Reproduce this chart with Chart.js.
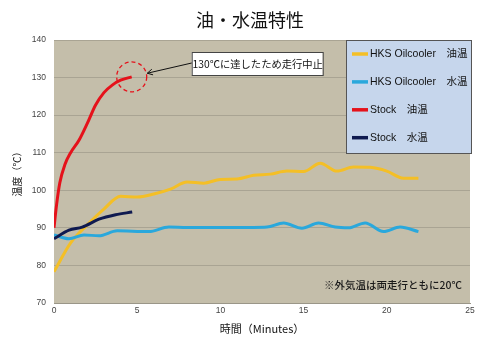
<!DOCTYPE html>
<html><head><meta charset="utf-8">
<script src="https://cdn.jsdelivr.net/npm/chart.js@4/dist/chart.umd.min.js"></script>
<style>html,body{margin:0;padding:0;background:#fff}#wrap{width:500px;height:342px}</style>
</head><body><div id="wrap"><canvas id="c" width="500" height="342"></canvas></div>
<script>
const chartTitle = '油・水温特性';
const seriesNames = ['HKS Oilcooler\u3000油温', 'HKS Oilcooler\u3000水温', 'Stock\u3000油温', 'Stock\u3000水温'];
const seriesColors = ['#f4bf26', '#2aa8dc', '#e5121b', '#0f1a50'];

const hksOilTime = [0, 1, 2, 3, 4, 5, 6, 7, 8, 9, 10, 11, 12, 13, 14, 15, 16, 17, 18, 19, 20, 21, 21.9];
const hksOilTemp = [78.3, 86, 90.8, 95, 98.4, 98.2, 99, 100.3, 102.2, 101.9, 102.9, 103, 104, 104.3, 105.1, 105, 107.2, 105.1, 106.2, 106.1, 105.1, 103.2, 103.2];

const hksWaterTime = [0, 0.9, 1.8, 2.7, 3.8, 4.7, 5.7, 6.9, 8, 9, 10, 11, 12, 12.8, 13.8, 14.9, 15.9, 16.9, 17.7, 18.7, 19.8, 20.8, 21.9];
const hksWaterTemp = [88.1, 87.1, 88.1, 87.9, 89.2, 89.1, 89, 90.2, 90.1, 90.1, 90.1, 90.1, 90.1, 90.2, 91.3, 89.9, 91.3, 90.2, 90, 91.3, 89, 90.2, 89];

const stockOilTime = [0, 0.15, 0.35, 0.65, 1, 1.5, 2, 2.5, 3, 3.5, 4, 4.67];
const stockOilTemp = [90, 96, 102, 106.8, 110, 113.3, 117.8, 122.7, 126, 128, 129.3, 130.2];

const stockWaterTime = [0, 0.9, 1.7, 2.7, 3.7, 4.7];
const stockWaterTemp = [87.1, 89.4, 90.2, 92.3, 93.5, 94.2];

const xTicksMin = 0, xTicksMax = 25, xStep = 5;
const yTicksMin = 70, yTicksMax = 140, yStep = 10;
const stopNote = '130℃に達したため走行中止';
const ambientNote = '※外気温は両走行ともに20℃';

const FONT = "'Liberation Sans', 'Noto Sans CJK JP', sans-serif";
const JFONT = "'Noto Sans CJK JP', 'Liberation Sans', sans-serif";

function pts(t, v) { return t.map((x, i) => ({x: x, y: v[i]})); }

const deco = {
  id: 'deco',
  beforeDraw(chart) {
    const {ctx, chartArea: a} = chart;
    ctx.save();
    ctx.fillStyle = '#c4beaa';
    ctx.fillRect(a.left, a.top, a.right - a.left, a.bottom - a.top);
    ctx.restore();
  },
  afterDraw(chart) {
    const {ctx, chartArea: a, scales} = chart;
    ctx.save();
    // title
    ctx.fillStyle = '#111';
    ctx.font = '18px ' + JFONT;
    ctx.textAlign = 'center';
    ctx.textBaseline = 'middle';
    ctx.fillText(chartTitle, 250, 20);

    // dashed circle at end of stock oil line
    const lastI = stockOilTime.length - 1;
    const cx = scales.x.getPixelForValue(stockOilTime[lastI]);
    const cy = scales.y.getPixelForValue(stockOilTemp[lastI]);
    const r = 15;
    ctx.strokeStyle = '#e5121b';
    ctx.lineWidth = 1.3;
    ctx.setLineDash([4, 3]);
    ctx.beginPath(); ctx.arc(cx, cy, r, 0, Math.PI * 2); ctx.stroke();
    ctx.setLineDash([]);

    // annotation box
    const bx = cx + 60, by = 52, bw = 131, bh = 23;
    ctx.fillStyle = '#fff';
    ctx.fillRect(bx, by, bw, bh);
    ctx.strokeStyle = '#444';
    ctx.lineWidth = 1;
    ctx.strokeRect(bx + 0.5, by + 0.5, bw, bh);
    ctx.fillStyle = '#111';
    ctx.font = '10.3px ' + JFONT;
    ctx.textAlign = 'center';
    ctx.fillText(stopNote, bx + bw / 2 + 0.5, by + bh / 2 + 1);

    // arrow
    const sx = bx, sy = by + 11;
    const ang = Math.atan2(sy - cy, sx - cx);
    const ex = cx + Math.cos(ang) * (r + 1), ey = cy + Math.sin(ang) * (r + 1);
    ctx.strokeStyle = '#111';
    ctx.lineWidth = 1;
    ctx.beginPath(); ctx.moveTo(sx, sy); ctx.lineTo(ex, ey); ctx.stroke();
    const ah = 6, aw = 0.5;
    ctx.beginPath();
    ctx.moveTo(ex + Math.cos(ang + aw) * ah, ey + Math.sin(ang + aw) * ah);
    ctx.lineTo(ex, ey);
    ctx.lineTo(ex + Math.cos(ang - aw) * ah, ey + Math.sin(ang - aw) * ah);
    ctx.stroke();

    // legend
    const lx = 346, ly = 40, lw = 125, lh = 113;
    ctx.fillStyle = '#c6d6ec';
    ctx.fillRect(lx, ly, lw, lh);
    ctx.strokeStyle = '#555';
    ctx.strokeRect(lx + 0.5, ly + 0.5, lw, lh);
    ctx.font = '10.5px ' + FONT;
    ctx.textAlign = 'left';
    ctx.textBaseline = 'middle';
    seriesNames.forEach((n, i) => {
      const yy = 54 + i * 27.9;
      ctx.strokeStyle = seriesColors[i];
      ctx.lineWidth = 3.5;
      ctx.beginPath(); ctx.moveTo(352, yy); ctx.lineTo(368, yy); ctx.stroke();
      ctx.fillStyle = '#111';
      ctx.fillText(n, 370, yy + 0.5);
    });

    // ambient note
    ctx.font = '500 10.5px ' + JFONT;
    ctx.textAlign = 'right';
    ctx.fillStyle = '#1a1a1a';
    ctx.fillText(ambientNote, 462, 285);
    ctx.restore();
  }
};

const times = [hksOilTime, hksWaterTime, stockOilTime, stockWaterTime];
const temps = [hksOilTemp, hksWaterTemp, stockOilTemp, stockWaterTemp];

new Chart(document.getElementById('c'), {
  type: 'line',
  data: {
    datasets: seriesNames.map((n, i) => ({
      label: n,
      data: pts(times[i], temps[i]),
      borderColor: seriesColors[i],
      backgroundColor: seriesColors[i],
      borderWidth: 3,
      pointRadius: 0,
      tension: 0.4,
      cubicInterpolationMode: 'monotone',
      fill: false,
      order: [3, 2, 0, 1][i]
    }))
  },
  options: {
    responsive: false,
    animation: false,
    events: [],
    layout: {padding: {left: 0, right: 30, top: 40, bottom: 0}},
    plugins: {legend: {display: false}, title: {display: false}, tooltip: {enabled: false}},
    scales: {
      x: {
        type: 'linear', min: xTicksMin, max: xTicksMax,
        afterFit: s => { s.height = 39; },
        ticks: {stepSize: xStep, color: '#444', font: {family: FONT, size: 8.5}, padding: 3, maxRotation: 0},
        grid: {display: false, drawTicks: false},
        border: {display: true, color: '#9a9688'},
        title: {display: true, text: '時間（Minutes）', color: '#111', font: {family: JFONT, size: 11}, padding: {top: 0, bottom: 7}}
      },
      y: {
        min: yTicksMin, max: yTicksMax,
        afterFit: s => { s.width = 54; },
        ticks: {stepSize: yStep, color: '#444', font: {family: FONT, size: 8.5}, padding: 8},
        grid: {color: '#a9a493', lineWidth: 1, drawTicks: false},
        border: {display: false},
        title: {display: true, text: '温度（℃）', color: '#111', font: {family: JFONT, size: 10}, padding: {top: 11, bottom: 0}}
      }
    }
  },
  plugins: [deco]
});
</script>
</body></html>
